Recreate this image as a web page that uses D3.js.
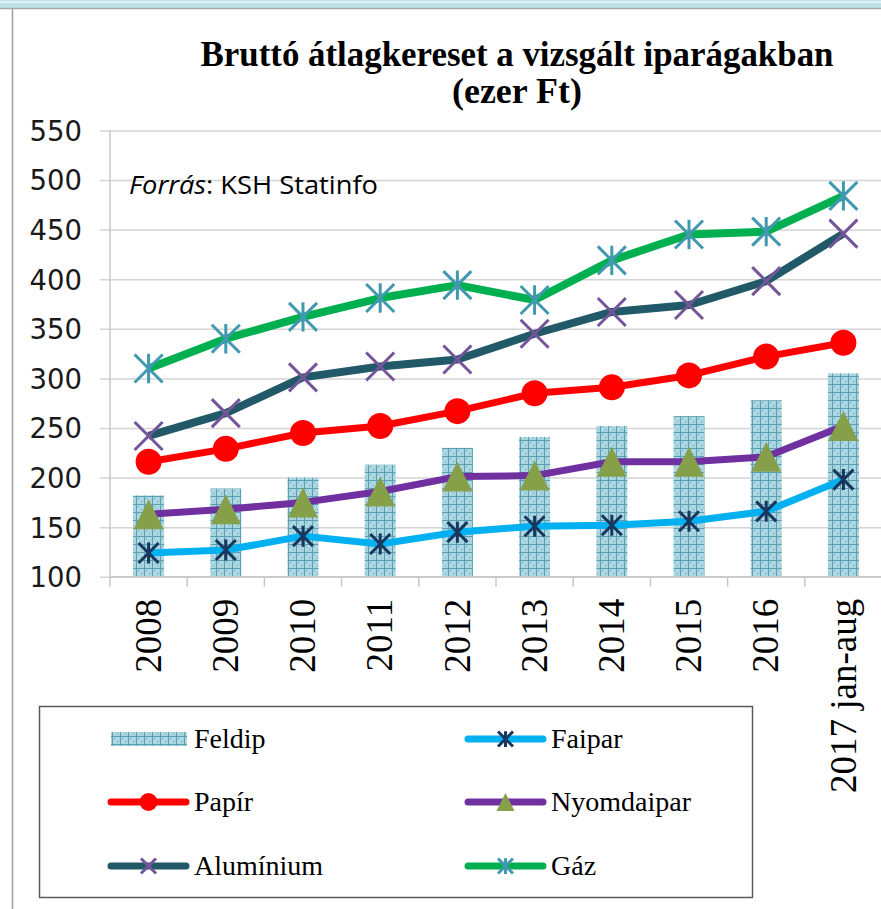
<!DOCTYPE html>
<html>
<head>
<meta charset="utf-8">
<script src="https://cdn.jsdelivr.net/npm/d3@7"></script>
<style>
  body { margin: 0; background: #ffffff; }
  svg { display: block; }
</style>
</head>
<body>
<svg id="svg"></svg>
<script>
const years = ['2008', '2009', '2010', '2011', '2012', '2013', '2014', '2015', '2016', '2017 jan-aug']
const feldip = [182, 189, 200, 213, 230, 241, 252, 262, 278, 305]
const faipar = [124, 127, 141, 133, 145, 151, 152, 156, 166, 198]
const papir = [216, 229, 245, 252, 267, 285, 291, 303, 322, 336]
const nyomdaipar = [163, 168, 175, 186, 201, 202, 216, 216, 221, 252]
const aluminium = [242, 265, 301, 312, 319, 345, 367, 374, 398, 446]
const gaz = [310, 340, 362, 381, 394, 379, 419, 445, 448, 484]
const yTicks = [100, 150, 200, 250, 300, 350, 400, 450, 500, 550]

const W = 881, H = 909

const svg = d3.select('#svg')
  .attr('width', W)
  .attr('height', H)
  .style('background-color', '#ffffff')

// frame of the page (top band + left rule)
svg.append('rect').attr('x', 0).attr('y', 0).attr('width', W).attr('height', 8).attr('fill', '#bfe2e8')
svg.append('line').attr('x1', 0).attr('x2', W).attr('y1', 2).attr('y2', 2).attr('stroke', '#e8f5f7').attr('stroke-width', 1.5)
svg.append('line').attr('x1', 0).attr('x2', W).attr('y1', 8.5).attr('y2', 8.5).attr('stroke', '#a9a9a9').attr('stroke-width', 1.5)
svg.append('line').attr('x1', 12.5).attr('x2', 12.5).attr('y1', 9).attr('y2', H).attr('stroke', '#a0a0a0').attr('stroke-width', 1.5)

// bar texture
const defs = svg.append('defs')
const pat = defs.append('pattern')
  .attr('id', 'feldip')
  .attr('patternUnits', 'userSpaceOnUse')
  .attr('width', 8)
  .attr('height', 8)
pat.append('rect').attr('width', 8).attr('height', 8).attr('fill', '#a8d4df')
pat.append('rect').attr('x', 2).attr('y', 2).attr('width', 1).attr('height', 1).attr('fill', '#7db8c8')
pat.append('rect').attr('x', 5).attr('y', 5).attr('width', 1).attr('height', 1).attr('fill', '#7db8c8')
pat.append('rect').attr('x', 5).attr('y', 2).attr('width', 1).attr('height', 1).attr('fill', '#cde8ee')
pat.append('rect').attr('x', 2).attr('y', 5).attr('width', 1).attr('height', 1).attr('fill', '#cde8ee')
pat.append('line').attr('x1', 0.5).attr('x2', 0.5).attr('y1', 0).attr('y2', 8).attr('stroke', '#5a9fb2').attr('stroke-width', 1)
pat.append('line').attr('x1', 0).attr('x2', 8).attr('y1', 0.5).attr('y2', 0.5).attr('stroke', '#5a9fb2').attr('stroke-width', 1)

const area = { left: 110, right: 882, top: 130.4, bottom: 576.8 }

const xStep = d3.scaleBand().domain(years).range([area.left, area.right])

const yScale = d3.scaleLinear()
  .domain([100, 550])
  .range([area.bottom, area.top])

const cx = function (i) { return xStep(years[i]) + xStep.bandwidth() / 2 }

// gridlines + y labels
const yAxis = svg.append('g')
  .attr('transform', 'translate(' + area.left + ',0)')
  .call(d3.axisLeft(yScale).tickValues(yTicks).tickSize(10).tickSizeInner(-(area.right - area.left)).tickPadding(0))
yAxis.select('.domain').remove()
yAxis.selectAll('.tick line')
  .attr('x1', -10)
  .attr('stroke', '#d4d4d4')
  .attr('stroke-width', 1.5)
yAxis.selectAll('.tick text')
  .attr('x', -28)
  .attr('dy', '0.36em')
  .attr('fill', '#1a1a1a')
  .style('font-family', '"DejaVu Sans", Verdana, sans-serif')
  .style('font-size', '27.5px')

svg.append('line')
  .attr('x1', area.left).attr('x2', area.left)
  .attr('y1', area.top).attr('y2', area.bottom)
  .attr('stroke', '#c8c8c8').attr('stroke-width', 1.5)

// bars
svg.append('g').selectAll('rect')
  .data(feldip)
  .enter()
  .append('rect')
  .attr('x', function (d, i) { return cx(i) - 15.5 })
  .attr('width', 31)
  .attr('y', function (d) { return yScale(d) })
  .attr('height', function (d) { return yScale(100) - yScale(d) })
  .attr('fill', 'url(#feldip)')

// x axis
const xAxis = svg.append('g')
  .attr('transform', 'translate(0,' + area.bottom + ')')
svg.append('line')
  .attr('x1', area.left).attr('x2', area.right)
  .attr('y1', area.bottom).attr('y2', area.bottom)
  .attr('stroke', '#c8c8c8').attr('stroke-width', 1.5)
xAxis.selectAll('line.tk')
  .data(years)
  .enter()
  .append('line')
  .attr('class', 'tk')
  .attr('x1', function (d) { return xStep(d) })
  .attr('x2', function (d) { return xStep(d) })
  .attr('y1', 0)
  .attr('y2', 10)
  .attr('stroke', '#c8c8c8')
  .attr('stroke-width', 1.5)
xAxis.selectAll('text')
  .data(years)
  .enter()
  .append('text')
  .attr('transform', function (d, i) { return 'translate(' + cx(i) + ',22) rotate(-90)' })
  .attr('text-anchor', 'end')
  .attr('dy', '0.33em')
  .attr('fill', '#000')
  .style('font-family', '"Liberation Serif", "Times New Roman", serif')
  .style('font-size', '37px')
  .text(function (d) { return d })

// lines
const series = [
  { name: 'Faipar', data: faipar, color: '#00b0f0', width: 7, marker: 'star', mcolor: '#17375e', msize: 10 },
  { name: 'Nyomdaipar', data: nyomdaipar, color: '#7030a0', width: 7, marker: 'tri', mcolor: '#86a04a', msize: 15 },
  { name: 'Papír', data: papir, color: '#ff0000', width: 7, marker: 'circle', mcolor: '#ff0000', msize: 13 },
  { name: 'Alumínium', data: aluminium, color: '#215968', width: 8, marker: 'x', mcolor: '#74559a', msize: 14 },
  { name: 'Gáz', data: gaz, color: '#00b050', width: 8, marker: 'star', mcolor: '#4199b0', msize: 14 }
]

function drawMarker (g, type, color, s) {
  if (type === 'circle') {
    g.append('circle').attr('r', s).attr('fill', color)
  } else if (type === 'tri') {
    g.append('path')
      .attr('d', 'M0,' + (-s) + 'L' + s + ',' + s + 'L' + (-s) + ',' + s + 'Z')
      .attr('fill', color)
  } else if (type === 'x') {
    g.append('path')
      .attr('d', 'M' + (-s) + ',' + (-s) + 'L' + s + ',' + s + 'M' + s + ',' + (-s) + 'L' + (-s) + ',' + s)
      .attr('stroke', color).attr('stroke-width', 3)
  } else {
    g.append('path')
      .attr('d', 'M' + (-s) + ',' + (-s) + 'L' + s + ',' + s + 'M' + s + ',' + (-s) + 'L' + (-s) + ',' + s + 'M0,' + (-s * 1.05) + 'L0,' + (s * 1.05))
      .attr('stroke', color).attr('stroke-width', 3)
  }
}

const line = d3.line()
  .x(function (d, i) { return cx(i) })
  .y(function (d) { return yScale(d) })

series.forEach(function (s) {
  svg.append('path')
    .datum(s.data)
    .attr('d', line)
    .attr('fill', 'none')
    .attr('stroke', s.color)
    .attr('stroke-width', s.width)
    .attr('stroke-linejoin', 'round')
  s.data.forEach(function (v, i) {
    const g = svg.append('g').attr('transform', 'translate(' + cx(i) + ',' + yScale(v) + ')')
    drawMarker(g, s.marker, s.mcolor, s.msize)
  })
})

// title
const title = svg.append('text')
  .attr('text-anchor', 'middle')
  .attr('fill', '#000')
  .style('font-family', '"Liberation Serif", "Times New Roman", serif')
  .style('font-weight', 'bold')
  .style('font-size', '35px')
title.append('tspan').attr('x', 517).attr('y', 66)
  .attr('textLength', 633).attr('lengthAdjust', 'spacingAndGlyphs')
  .text('Bruttó átlagkereset a vizsgált iparágakban')
title.append('tspan').attr('x', 517).attr('y', 103)
  .attr('textLength', 130).attr('lengthAdjust', 'spacingAndGlyphs')
  .text('(ezer Ft)')

// source
const src = svg.append('text')
  .attr('x', 129)
  .attr('y', 194)
  .attr('fill', '#000')
  .attr('textLength', 249)
  .attr('lengthAdjust', 'spacingAndGlyphs')
  .style('font-family', '"Open Sans", "Noto Sans", sans-serif')
  .style('font-size', '25px')
src.append('tspan').style('font-style', 'italic').text('Forrás')
src.append('tspan').text(': KSH Statinfo')

// legend
svg.append('rect')
  .attr('x', 39.5).attr('y', 706.5)
  .attr('width', 713).attr('height', 191)
  .attr('fill', '#fff')
  .attr('stroke', '#595959').attr('stroke-width', 1.5)

const legendItems = [
  { name: 'Feldip', col: 0, row: 0 },
  { name: 'Faipar', col: 1, row: 0, s: series[0] },
  { name: 'Papír', col: 0, row: 1, s: series[2] },
  { name: 'Nyomdaipar', col: 1, row: 1, s: series[1] },
  { name: 'Alumínium', col: 0, row: 2, s: series[3] },
  { name: 'Gáz', col: 1, row: 2, s: series[4] }
]
const colX = [108, 465]
const rowY = [739, 802, 866]

legendItems.forEach(function (d) {
  const x0 = colX[d.col], y0 = rowY[d.row]
  const g = svg.append('g')
  if (!d.s) {
    g.append('rect').attr('x', x0 + 3).attr('y', y0 - 7).attr('width', 76).attr('height', 14).attr('fill', 'url(#feldip)')
  } else {
    g.append('line')
      .attr('x1', x0 + 3).attr('x2', x0 + 78)
      .attr('y1', y0).attr('y2', y0)
      .attr('stroke', d.s.color)
      .attr('stroke-width', 7)
      .attr('stroke-linecap', 'round')
    const m = g.append('g').attr('transform', 'translate(' + (x0 + 40.5) + ',' + y0 + ')')
    drawMarker(m, d.s.marker, d.s.mcolor, d.s.marker === 'circle' ? 9 : d.s.marker === 'tri' ? 9 : 7.5)
  }
  g.append('text')
    .attr('x', x0 + 86)
    .attr('y', y0 + 9)
    .attr('fill', '#000')
    .style('font-family', '"Liberation Serif", "Times New Roman", serif')
    .style('font-size', '28px')
    .text(d.name)
})
</script>
</body>
</html>
